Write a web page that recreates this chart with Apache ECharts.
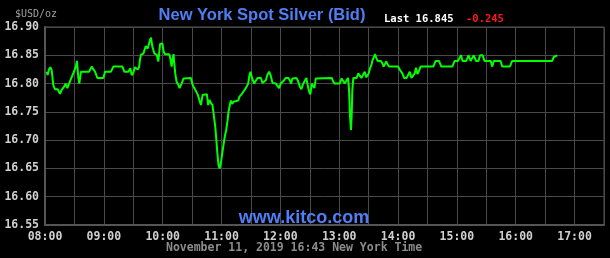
<!DOCTYPE html>
<html><head><meta charset="utf-8">
<script src="https://cdn.jsdelivr.net/npm/echarts@6/dist/echarts.min.js"></script>
<style>html,body{margin:0;padding:0;background:#000;}#c{width:610px;height:258px;}</style>
</head><body><div id="c"></div>
<script>
// minutes after 08:00 (New York time)
const minutes = [1.7,2.7,4,5.4,6.8,8.5,10.2,12.9,15.3,17,19.7,21,22.8,24.5,26.5,29,30.6,31.3,32.6,34,35,36.7,44.9,47.6,49.3,51,53.4,59.5,61.2,67.3,69.7,78.9,80.9,85,87,88.4,90,91.8,94.5,95.9,96.9,97.9,100.3,102.7,104.7,107.1,108.1,109.5,111.5,113.9,115.6,117.3,119.7,121,122.3,126.7,127.7,129.1,130.1,131.1,131.8,132.8,134.2,135.9,137.2,139.3,141.3,142.7,148.8,150.5,152.2,153.9,155.6,157.3,159,160.7,161.7,165.1,166.4,167.8,169.1,170.8,172.5,173.6,174.9,175.9,176.9,178,179.3,180.7,181.7,183.4,184.8,186.1,187.1,188.5,189.5,190.9,192.2,193.6,197,198.3,200.4,202.4,204.8,207.2,208.5,209.6,211.2,213.3,214.6,216.7,220.1,221.8,223.5,225.2,226.9,228.6,230.3,232,235.4,237.1,238.7,240.4,242.1,243.8,245.5,248.2,249.6,250.9,252.3,253.3,256.4,258.1,259.8,261.4,263.1,265.2,266.5,267.6,269.3,270.6,272,273.3,274.7,276.1,277.7,292.4,293.7,295.1,300.5,302.5,304.2,305.6,307.6,309,310,310.7,311,312,312.7,313.4,314.4,317.8,319.5,320.9,322.6,324.3,326,327.7,329,330,331.4,332.8,334.1,335.8,336.5,337.9,339.2,342.3,344,345.3,346.7,348,349.4,350.8,360,362,364.4,366.1,368.8,370.5,371.9,373.6,375.6,377,378.3,379.7,381,383,396,398.3,401.7,404.1,415.3,417.7,421.1,424.2,425.8,429.5,431.9,434,437.2,439.5,442,443.6,446.2,448.2,454.5,456,457.7,464.6,466.2,474,476.4,517.2,518.8,520.6,522.3];
const prices = [16.821,16.815,16.825,16.829,16.824,16.797,16.790,16.790,16.782,16.789,16.795,16.800,16.792,16.800,16.803,16.819,16.821,16.829,16.840,16.810,16.800,16.821,16.821,16.830,16.829,16.821,16.810,16.810,16.821,16.821,16.830,16.830,16.821,16.821,16.827,16.815,16.819,16.829,16.825,16.829,16.843,16.851,16.853,16.866,16.862,16.877,16.881,16.865,16.853,16.851,16.839,16.870,16.871,16.856,16.852,16.852,16.845,16.830,16.844,16.852,16.836,16.818,16.803,16.798,16.792,16.800,16.809,16.810,16.810,16.798,16.792,16.787,16.781,16.781,16.762,16.780,16.781,16.781,16.762,16.771,16.766,16.762,16.759,16.724,16.697,16.674,16.656,16.650,16.659,16.659,16.688,16.707,16.718,16.734,16.750,16.762,16.770,16.764,16.768,16.770,16.770,16.777,16.781,16.786,16.792,16.800,16.815,16.821,16.809,16.800,16.802,16.810,16.810,16.801,16.800,16.806,16.816,16.821,16.813,16.801,16.800,16.796,16.792,16.800,16.802,16.806,16.810,16.810,16.806,16.800,16.809,16.810,16.810,16.804,16.795,16.790,16.799,16.806,16.810,16.799,16.786,16.781,16.800,16.796,16.792,16.809,16.810,16.810,16.804,16.800,16.800,16.809,16.804,16.800,16.802,16.810,16.790,16.789,16.743,16.718,16.743,16.789,16.810,16.810,16.818,16.814,16.810,16.812,16.821,16.811,16.810,16.818,16.827,16.833,16.842,16.848,16.852,16.845,16.840,16.840,16.836,16.830,16.832,16.839,16.834,16.830,16.830,16.824,16.818,16.810,16.810,16.813,16.821,16.810,16.810,16.818,16.828,16.817,16.821,16.830,16.830,16.840,16.840,16.830,16.830,16.840,16.840,16.850,16.840,16.840,16.850,16.840,16.850,16.840,16.840,16.850,16.850,16.840,16.840,16.830,16.840,16.840,16.830,16.830,16.840,16.840,16.847,16.850,16.850];
const hourLabels = ['08:00','09:00','10:00','11:00','12:00','13:00','14:00','15:00','16:00','17:00'];
const titleText = 'New York Spot Silver (Bid)';
const unitText = '$USD/oz';
const lastText = 'Last 16.845';
const changeText = '-0.245';
const siteText = 'www.kitco.com';
const dateText = 'November 11, 2019 16:43 New York Time';

const mono = '"DejaVu Sans Mono", "Liberation Mono", monospace';
const sans = '"Liberation Sans", Arial, sans-serif';
const chart = echarts.init(document.getElementById('c'), null, {renderer: 'canvas'});
chart.setOption({
  backgroundColor: '#000',
  animation: false,
  grid: {left: 45, right: 6, top: 27, bottom: 33, show: true, borderColor: '#555', borderWidth: 1},
  title: [
    {text: titleText, left: 262, top: 7, padding: 0, textAlign: 'center', textStyle: {color: '#4f7ef5', fontFamily: sans, fontSize: 16.5, fontWeight: 'bold'}},
    {text: unitText, left: 15, top: 9, padding: 0, textStyle: {color: '#a0a0a0', fontFamily: mono, fontSize: 10, fontWeight: 'normal'}},
    {text: lastText, left: 384, top: 14, padding: 0, textStyle: {color: '#ffffff', fontFamily: mono, fontSize: 10.5, fontWeight: 'bold'}},
    {text: changeText, left: 466, top: 14, padding: 0, textStyle: {color: '#ff1a1a', fontFamily: mono, fontSize: 10.5, fontWeight: 'bold'}},
    {text: siteText, left: 304, top: 209, padding: 0, textAlign: 'center', textStyle: {color: '#4f7ef5', fontFamily: sans, fontSize: 18, fontWeight: 'bold'}},
    {text: dateText, left: 166, top: 242, padding: 0, textStyle: {color: '#8c8c8c', fontFamily: mono, fontSize: 11.5, fontWeight: 'bold'}}
  ],
  xAxis: {
    type: 'value', min: 0, max: 570, interval: 30,
    axisLine: {show: true, lineStyle: {color: '#555', width: 2}},
    axisTick: {show: false},
    splitLine: {show: true, lineStyle: {color: '#4a4a4a', width: 1}},
    axisLabel: {
      color: '#d0d0d0', fontFamily: mono, fontSize: 11.5, fontWeight: 'bold', margin: 6,
      showMaxLabel: false,
      formatter: v => (v % 60 === 0 && hourLabels[v / 60]) ? hourLabels[v / 60] : ''
    }
  },
  yAxis: {
    type: 'value', min: 16.55, max: 16.90, interval: 0.05,
    axisLine: {show: true, lineStyle: {color: '#555', width: 2}},
    axisTick: {show: false},
    splitLine: {show: true, lineStyle: {color: '#4a4a4a', width: 1}},
    axisLabel: {color: '#d0d0d0', fontFamily: mono, fontSize: 11.5, fontWeight: 'bold', margin: 6,
      formatter: v => v.toFixed(2)}
  },
  series: [{
    type: 'line', showSymbol: false, symbol: 'none',
    data: minutes.map((m, i) => [m, prices[i]]),
    lineStyle: {color: '#00ff00', width: 2},
    silent: true
  }]
});
</script></body></html>
